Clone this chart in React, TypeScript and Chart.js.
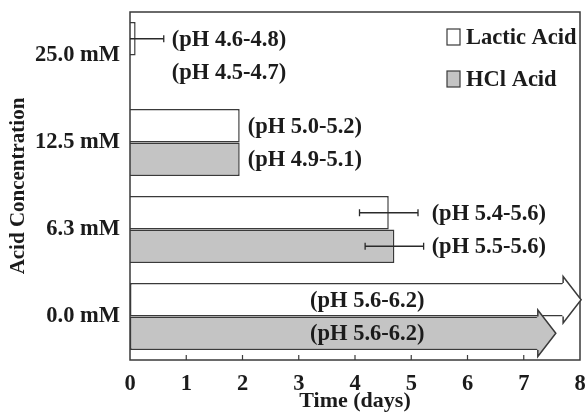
import React, { useEffect, useRef } from "react";
import { Chart, registerables } from "chart.js";

Chart.register(...registerables);

const categories = ["25.0 mM", "12.5 mM", "6.3 mM", "0.0 mM"];
const seriesNames = ["Lactic Acid", "HCl Acid"];
const lacticDays = [0.1, 1.95, 4.6, 7.7];
const hclDays = [0, 1.95, 4.7, 7.25];
const lacticErr = [0.5, 0, 0.52, 0];
const hclErr = [0, 0, 0.52, 0];
const lacticPH = ["(pH 4.6-4.8)", "(pH 5.0-5.2)", "(pH 5.4-5.6)", "(pH 5.6-6.2)"];
const hclPH = ["(pH 4.5-4.7)", "(pH 4.9-5.1)", "(pH 5.5-5.6)", "(pH 5.6-6.2)"];
const arrowCategory = 3; // bars still going at end of experiment
const insideLabelAt = 3.2; // days, where labels sit inside the arrow bars
const xTicks = [0, 1, 2, 3, 4, 5, 6, 7, 8];

const FONT = "'Liberation Serif', 'Times New Roman', serif";
const TEXT = "#1b1b1b";
const EDGE = "#3a3a3a";
const FILLS = ["#ffffff", "#c4c4c4"];
const LABEL_SIZE = 22.5;

export default function App() {
  const ref = useRef<HTMLCanvasElement | null>(null);

  useEffect(() => {
    if (!ref.current) return;
    const errs = [lacticErr, hclErr];
    const phs = [lacticPH, hclPH];

    const overlay = {
      id: "overlay",
      afterDatasetsDraw(chart: any) {
        const ctx = chart.ctx;
        const a = chart.chartArea;
        const xs = chart.scales.x;
        ctx.save();
        // frame
        ctx.strokeStyle = EDGE;
        ctx.lineWidth = 1.5;
        ctx.strokeRect(a.left, a.top, a.right - a.left, a.bottom - a.top);
        // inward ticks on bottom axis
        ctx.lineWidth = 1.2;
        xTicks.forEach((t) => {
          if (t <= 0 || t >= 8) return;
          const px = xs.getPixelForValue(t);
          ctx.beginPath();
          ctx.moveTo(px, a.bottom);
          ctx.lineTo(px, a.bottom - 5);
          ctx.stroke();
        });
        // arrowheads
        chart.data.datasets.forEach((ds: any, di: number) => {
          const el = chart.getDatasetMeta(di).data[arrowCategory] as any;
          if (!el) return;
          const h = el.height;
          const ext = 6.5;
          const len = 18;
          const x = el.x;
          const y = el.y;
          ctx.beginPath();
          ctx.moveTo(x - 1, y - h / 2 + 0.75);
          ctx.lineTo(x, y - h / 2 + 0.75);
          ctx.lineTo(x, y - h / 2 - ext);
          ctx.lineTo(x + len, y);
          ctx.lineTo(x, y + h / 2 + ext);
          ctx.lineTo(x, y + h / 2 - 0.75);
          ctx.lineTo(x - 1, y + h / 2 - 0.75);
          ctx.closePath();
          ctx.fillStyle = FILLS[di];
          ctx.fill();
          ctx.beginPath();
          ctx.moveTo(x, y - h / 2);
          ctx.lineTo(x, y - h / 2 - ext);
          ctx.lineTo(x + len, y);
          ctx.lineTo(x, y + h / 2 + ext);
          ctx.lineTo(x, y + h / 2);
          ctx.strokeStyle = EDGE;
          ctx.lineWidth = 1.5;
          ctx.stroke();
        });
        // error bars
        ctx.strokeStyle = "#2a2a2a";
        ctx.lineWidth = 1.3;
        chart.data.datasets.forEach((ds: any, di: number) => {
          const meta = chart.getDatasetMeta(di);
          ds.data.forEach((v: number, i: number) => {
            const e = errs[di][i];
            if (!e) return;
            const el = meta.data[i] as any;
            const lo = Math.max(0, v - e);
            const x1 = xs.getPixelForValue(lo);
            const x2 = xs.getPixelForValue(v + e);
            const y = el.y;
            ctx.beginPath();
            ctx.moveTo(x1, y);
            ctx.lineTo(x2, y);
            ctx.moveTo(x2, y - 3.5);
            ctx.lineTo(x2, y + 3.5);
            if (v - e > 0) {
              ctx.moveTo(x1, y - 3.5);
              ctx.lineTo(x1, y + 3.5);
            }
            ctx.stroke();
          });
        });
        // pH labels
        ctx.font = `bold ${LABEL_SIZE}px ${FONT}`;
        ctx.fillStyle = TEXT;
        ctx.textBaseline = "middle";
        ctx.textAlign = "left";
        categories.forEach((_, i) => {
          let lx: number;
          if (i === arrowCategory) {
            lx = xs.getPixelForValue(insideLabelAt);
          } else {
            let m = 0;
            chart.data.datasets.forEach((ds: any, di: number) => {
              m = Math.max(m, ds.data[i] + errs[di][i]);
            });
            lx = xs.getPixelForValue(m) + 8;
          }
          chart.data.datasets.forEach((ds: any, di: number) => {
            const el = chart.getDatasetMeta(di).data[i] as any;
            ctx.fillText(phs[di][i], lx, el.y + 1);
          });
        });
        // legend
        chart.data.datasets.forEach((ds: any, di: number) => {
          const bx = a.right - 133;
          const cy = a.top + 25 + di * 42;
          ctx.fillStyle = FILLS[di];
          ctx.fillRect(bx, cy - 8, 13, 16);
          ctx.strokeStyle = EDGE;
          ctx.lineWidth = 1.2;
          ctx.strokeRect(bx, cy - 8, 13, 16);
          ctx.fillStyle = TEXT;
          ctx.fillText(ds.label, bx + 19, cy + 1);
        });
        ctx.restore();
      },
    };

    const chart = new Chart(ref.current, {
      type: "bar",
      data: {
        labels: categories,
        datasets: [
          {
            label: seriesNames[0],
            data: lacticDays,
            backgroundColor: FILLS[0],
            borderColor: EDGE,
            borderWidth: 1.5,
            borderSkipped: ((c: any) => (c.dataIndex === arrowCategory ? "end" : "start")) as any,
          },
          {
            label: seriesNames[1],
            data: hclDays,
            backgroundColor: FILLS[1],
            borderColor: EDGE,
            borderWidth: 1.5,
            borderSkipped: ((c: any) => (c.dataIndex === arrowCategory ? "end" : "start")) as any,
          },
        ],
      },
      plugins: [overlay],
      options: {
        indexAxis: "y",
        animation: false,
        responsive: true,
        maintainAspectRatio: false,
        barPercentage: 1,
        categoryPercentage: 0.77,
        layout: { padding: { top: 12, right: 6, left: 0, bottom: 0 } },
        plugins: {
          legend: { display: false },
          tooltip: { enabled: false },
        },
        scales: {
          x: {
            type: "linear",
            min: 0,
            max: 8,
            afterBuildTicks: (s: any) => {
              s.ticks = xTicks.map((v) => ({ value: v }));
            },
            afterFit: (s: any) => {
              s.height = 59;
              s.paddingLeft = 0;
              s.paddingRight = 0;
            },
            grid: { display: false, drawTicks: false },
            border: { display: false },
            ticks: {
              padding: 11,
              color: TEXT,
              font: { family: FONT, size: LABEL_SIZE, weight: "bold" },
            },
            title: {
              display: true,
              text: "Time (days)",
              color: TEXT,
              font: { family: FONT, size: 22, weight: "bold" },
              padding: { top: 0, bottom: 4 },
            },
          },
          y: {
            type: "category",
            afterFit: (s: any) => {
              s.width = 130;
              s.paddingTop = 0;
              s.paddingBottom = 0;
            },
            grid: { display: false, drawTicks: false },
            border: { display: false },
            ticks: {
              padding: 10,
              color: TEXT,
              font: { family: FONT, size: LABEL_SIZE, weight: "bold" },
            },
            title: {
              display: true,
              text: "Acid Concentration",
              color: TEXT,
              font: { family: FONT, size: 21, weight: "bold" },
              padding: { top: 6, bottom: 0 },
            },
          },
        },
      } as any,
    });
    return () => chart.destroy();
  }, []);

  return (
    <div style={{ position: "fixed", left: 0, top: 0, width: 586, height: 419, background: "#fff" }}>
      <canvas ref={ref} />
    </div>
  );
}
